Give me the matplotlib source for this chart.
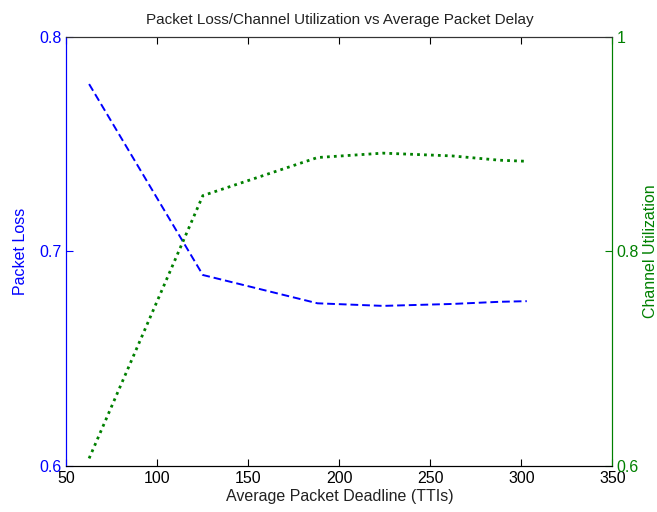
import matplotlib
matplotlib.use("Agg")
import matplotlib.pyplot as plt

plt.rcParams["font.family"] = ["Liberation Sans", "DejaVu Sans"]

deadline = [62.5, 125, 188, 224, 262, 288, 303]
packet_loss = [0.778, 0.689, 0.6758, 0.6746, 0.6755, 0.6765, 0.6768]
channel_util = [0.607, 0.852, 0.8875, 0.8916, 0.889, 0.885, 0.884]

blue = (0, 0, 1)
green = (0, 0.5, 0)

fig = plt.figure(figsize=(6.57, 5.12), dpi=100)
ax = fig.add_axes([0.101, 0.09, 0.831, 0.838])
ax2 = ax.twinx()

ax.plot(deadline, packet_loss, color=blue, linestyle=(0, (4, 2)), linewidth=1.4)
ax2.plot(deadline, channel_util, color=green, linestyle=(0, (1, 1.5)), linewidth=2.0)

ax.set_xlim(50, 350)
ax.set_ylim(0.6, 0.8)
ax2.set_ylim(0.6, 1.0)
ax.set_xticks([50, 100, 150, 200, 250, 300, 350])
ax.set_yticks([0.6, 0.7, 0.8])
ax2.set_yticks([0.6, 0.8, 1.0])
ax2.set_yticklabels(["0.6", "0.8", "1"])

ax.tick_params(axis="x", direction="in", top=True, labelsize=11.5, length=5, pad=4)
ax.tick_params(axis="y", direction="in", colors=blue, labelsize=11.5, length=5)
ax2.tick_params(axis="y", direction="in", colors=green, labelsize=11.5, length=5, pad=3)

for a in (ax, ax2):
    a.spines["top"].set_color("#333333")
    a.spines["bottom"].set_color("black")
    a.spines["left"].set_color(blue)
    a.spines["right"].set_color(green)

ax.set_xlabel("Average Packet Deadline (TTIs)", fontsize=11.5, color="#222222", labelpad=2)
ax.set_ylabel("Packet Loss", fontsize=11.5, color=blue, labelpad=8)
ax2.set_ylabel("Channel Utilization", fontsize=11.5, color=green, labelpad=3)
ax.set_title("Packet Loss/Channel Utilization vs Average Packet Delay", fontsize=11, color="#222222", pad=9)

fig.savefig("out.png", dpi=100)
